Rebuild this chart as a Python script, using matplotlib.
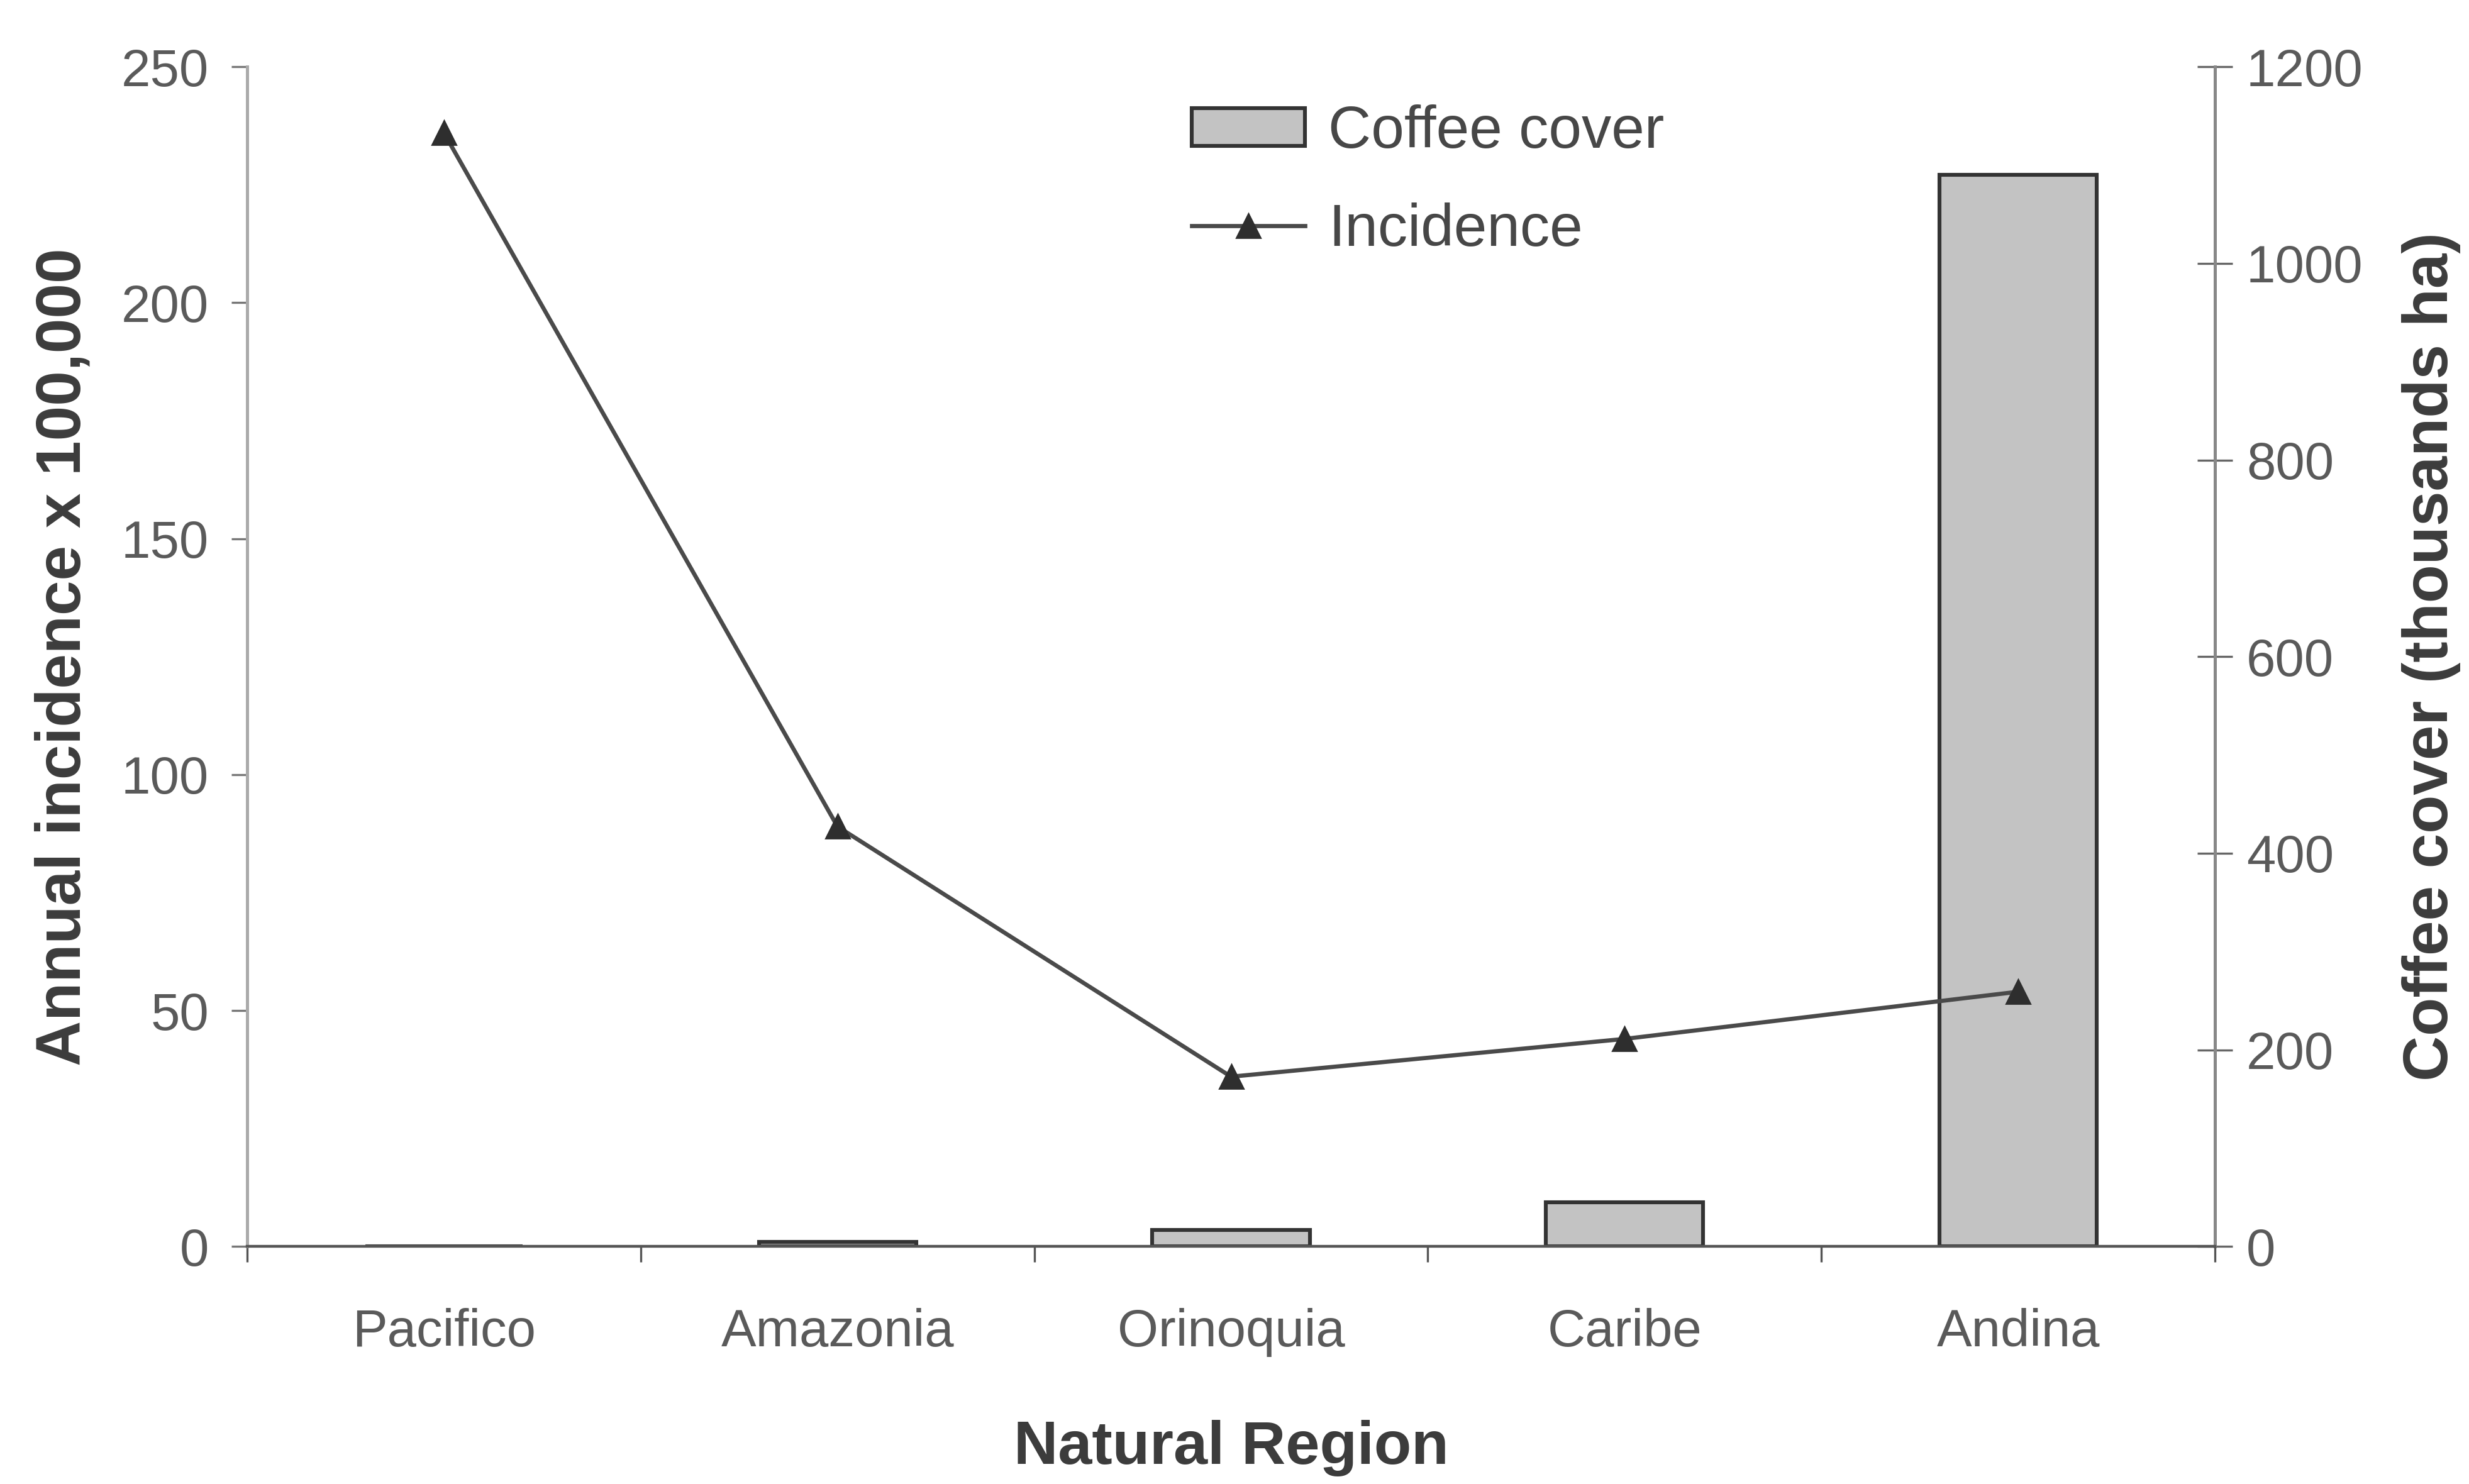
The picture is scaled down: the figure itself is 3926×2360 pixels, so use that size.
import matplotlib
matplotlib.use("Agg")
import matplotlib.pyplot as plt
import numpy as np
from matplotlib.ticker import FixedLocator

plt.rcParams['font.family'] = ['Liberation Sans', 'DejaVu Sans']

regions = ["Pacifico", "Amazonia", "Orinoquia", "Caribe", "Andina"]
incidence = [236, 89, 36, 44, 54]
coffee_cover = [0, 5, 17, 45, 1090]
left_ticks = [0, 50, 100, 150, 200, 250]
right_ticks = [0, 200, 400, 600, 800, 1000, 1200]

fig = plt.figure(figsize=(19.63, 11.8), dpi=200)
ax = fig.add_axes([0.1001, 0.160, 0.797, 0.795])
ax2 = ax.twinx()

x = np.arange(len(regions))

tick_col = '#5a5a5a'
lab_col = '#3c3c3c'

# bars on secondary axis
ax2.bar(x, coffee_cover, width=0.4, color='#c3c3c3', edgecolor='#333333',
        linewidth=2.2, label='Coffee cover', zorder=2)
ax2.set_ylim(0, 1200)
ax2.yaxis.set_major_locator(FixedLocator(right_ticks))

# line on primary axis, drawn on top
ax.set_zorder(ax2.get_zorder() + 1)
ax.patch.set_visible(False)
ax.plot(x, incidence, color='#4a4a4a', linewidth=2.4, marker='^',
        markersize=14, markerfacecolor='#2e2e2e', markeredgecolor='#2e2e2e',
        label='Incidence', zorder=3)
ax.set_ylim(0, 250)
ax.set_xlim(-0.5, len(regions) - 0.5)
ax.yaxis.set_major_locator(FixedLocator(left_ticks))

# x ticks at boundaries, labels at centers
ax.set_xticks(np.arange(-0.5, len(regions), 1.0))
ax.set_xticklabels([])
ax.set_xticks(x, minor=True)
ax.set_xticklabels(regions, minor=True)
ax.tick_params(axis='x', which='major', direction='out', length=9, width=1.2, color='#555555')
ax.tick_params(axis='x', which='minor', length=0, pad=35, labelsize=30, labelcolor=tick_col)

ax.tick_params(axis='y', which='major', direction='out', length=9, width=1.2,
               color='#777777', pad=13, labelsize=30, labelcolor=tick_col)
ax2.tick_params(axis='y', which='major', direction='inout', length=20, width=1.2,
                color='#666666', pad=8, labelsize=30, labelcolor=tick_col)

for s in ['top', 'right']:
    ax.spines[s].set_visible(False)
ax.spines['left'].set_color('#aaaaaa')
ax.spines['left'].set_linewidth(1.8)
ax.spines['bottom'].set_color('#555555')
ax.spines['bottom'].set_linewidth(1.6)
for s in ['top', 'left', 'bottom']:
    ax2.spines[s].set_visible(False)
ax2.spines['right'].set_color('#888888')
ax2.spines['right'].set_linewidth(1.8)

ax.set_ylabel('Annual incidence x 100,000', fontsize=36, fontweight='bold',
              color=lab_col, labelpad=16)
ax2.set_ylabel('Coffee cover (thousands ha)', fontsize=36, fontweight='bold',
               color=lab_col, labelpad=22)
ax.set_xlabel('Natural Region', fontsize=35, fontweight='bold', color=lab_col, labelpad=36)

h1, l1 = ax2.get_legend_handles_labels()
h2, l2 = ax.get_legend_handles_labels()
leg = ax.legend(h1 + h2, l1 + l2, loc='upper left', bbox_to_anchor=(0.468, 0.988),
                frameon=False, fontsize=34, handlelength=1.9, handleheight=0.6,
                labelspacing=0.7, handletextpad=0.4, borderaxespad=0.0)
for t in leg.get_texts():
    t.set_color('#474747')

fig.savefig('out.png', dpi=200, facecolor='white')
